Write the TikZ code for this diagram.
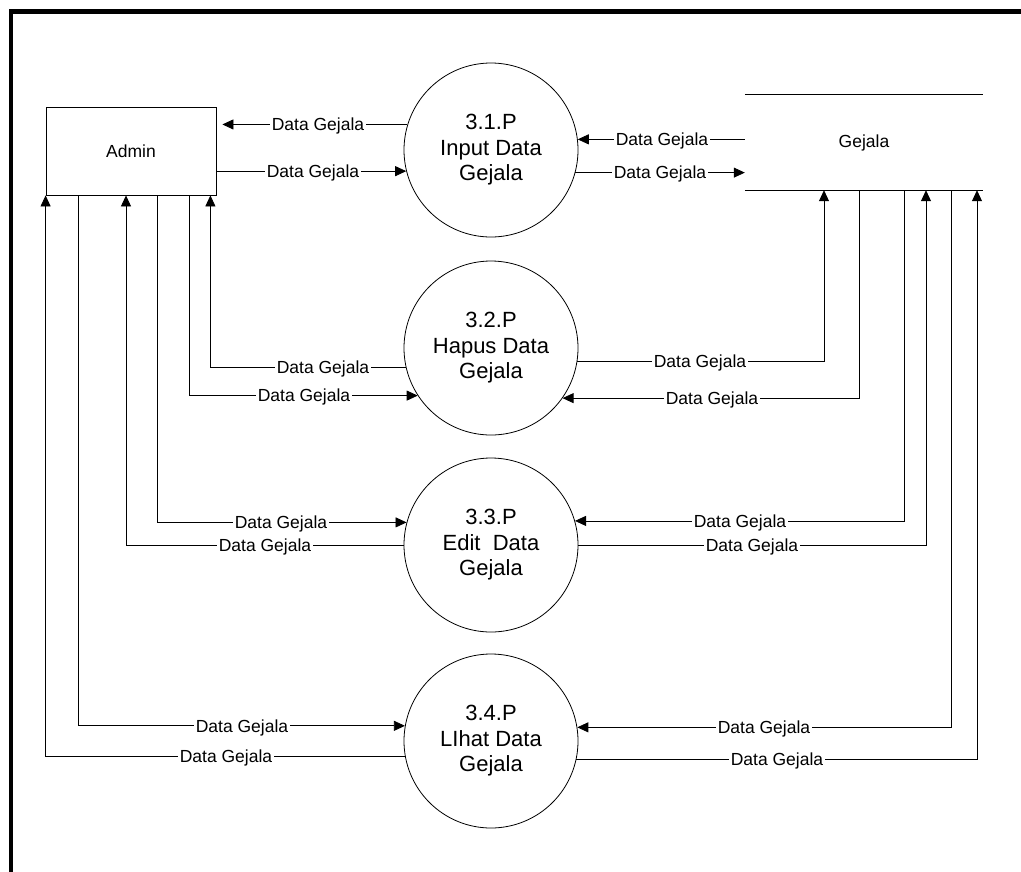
\documentclass[tikz,border=0pt]{standalone}
\usepackage{fontspec}
\setmainfont{Liberation Sans}
\usetikzlibrary{arrows.meta}

\begin{document}
\begin{tikzpicture}[
        x=1pt, y=-1pt,
        entity/.style={rectangle, draw, line width=0.8pt, minimum width=170pt, minimum height=88pt, inner sep=0pt, font=\fontsize{17.5}{21}\selectfont},
        store/.style={rectangle, minimum width=238pt, minimum height=95pt, inner sep=0pt, font=\fontsize{17.5}{21}\selectfont},
        process/.style={circle, draw, line width=0.8pt, minimum size=174pt, inner sep=0pt, align=center, font=\fontsize{22}{25.5}\selectfont},
        flow/.style={-{Triangle[length=11pt,width=10pt]}, line width=0.8pt},
        lbl/.style={fill=white, inner sep=1.5pt, text height=12.5pt, text depth=0pt, font=\fontsize{17.5}{21}\selectfont}
    ]
        \useasboundingbox (0,0) rectangle (1021,871);

        % Frame (only top and left edges are in view)
        \draw[line width=4.8pt] (11,880) -- (11,11.5) -- (1030,11.5);

        % External entity and data store
        \node[entity] (Admin) at (131,151) {Admin};
        \node[store] (Gejala) at (864,142.5) {Gejala};
        \draw[line width=0.8pt] (Gejala.north west) -- (Gejala.north east);
        \draw[line width=0.8pt] (Gejala.south west) -- (Gejala.south east);

        % Processes
        \node[process] (P1) at (491,150) {3.1.P\\Input Data\\Gejala};
        \node[process] (P2) at (491,348) {3.2.P\\Hapus Data\\Gejala};
        \node[process] (P3) at (491,545) {3.3.P\\Edit\ \ Data\\Gejala};
        \node[process] (P4) at (491,741) {3.4.P\\LIhat Data\\Gejala};

        % Flows between Admin and the processes
        \draw[flow, shorten >=6pt] (P1.163.3) -- (P1.163.3 -| Admin.east) node[lbl] at (P1.163.3 -| 318,0) {Data Gejala};
        \draw[flow] (Admin.east |- P1.194.6) -- (P1.194.6) node[lbl] at (P1.194.6 -| 313,0) {Data Gejala};

        \draw[flow] (P2.193.4) -| ([xshift=-6pt]Admin.south east) node[lbl] at (P2.193.4 -| 323,0) {Data Gejala};
        \draw[flow] (Admin.south -| 189,0) |- (P2.213.1) node[lbl] at (P2.213.1 -| 304,0) {Data Gejala};

        \draw[flow] (Admin.south -| 157,0) |- (P3.165.4) node[lbl] at (P3.165.4 -| 281,0) {Data Gejala};
        \draw[flow] (P3.180) -| (Admin.south -| 126,0) node[lbl] at (P3.180 -| 265,0) {Data Gejala};

        \draw[flow] (Admin.south -| 78,0) |- (P4.170.6) node[lbl] at (P4.170.6 -| 242,0) {Data Gejala};
        \draw[flow] (P4.190) -| (Admin.south west) node[lbl] at (P4.190 -| 226,0) {Data Gejala};

        % Flows between the processes and Gejala
        \draw[flow] (Gejala.west |- P1.7.9) -- (P1.7.9) node[lbl] at (P1.7.9 -| 662,0) {Data Gejala};
        \draw[flow] (P1.-15.3) -- (Gejala.west |- P1.-15.3) node[lbl] at (P1.-15.3 -| 660,0) {Data Gejala};

        \draw[flow] (P2.-9.4) -| (Gejala.south -| 824,0) node[lbl] at (P2.-9.4 -| 700,0) {Data Gejala};
        \draw[flow] (Gejala.south -| 859,0) |- (P2.-35.5) node[lbl] at (P2.-35.5 -| 712,0) {Data Gejala};

        \draw[flow] (Gejala.south -| 904,0) |- (P3.16.7) node[lbl] at (P3.16.7 -| 740,0) {Data Gejala};
        \draw[flow] (P3.0) -| (Gejala.south -| 926,0) node[lbl] at (P3.0 -| 752,0) {Data Gejala};

        \draw[flow] (Gejala.south -| 951,0) |- (P4.9.4) node[lbl] at (P4.9.4 -| 764,0) {Data Gejala};
        \draw[flow] (P4.-12.1) -| (Gejala.south -| 977,0) node[lbl] at (P4.-12.1 -| 777,0) {Data Gejala};
    \end{tikzpicture}
\end{document}
